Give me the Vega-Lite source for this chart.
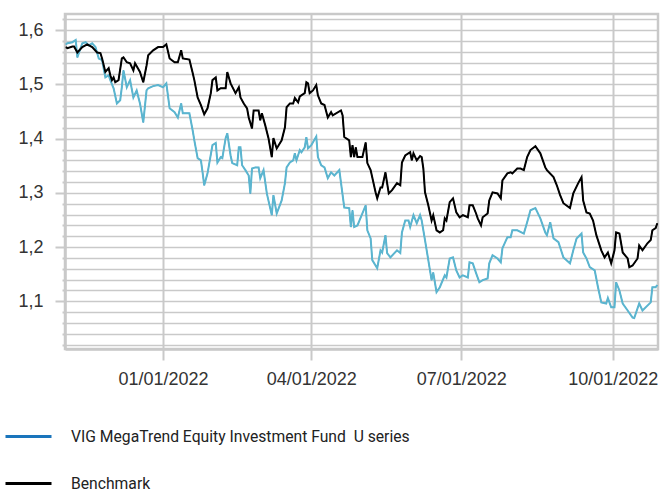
{
  "$schema": "https://vega.github.io/schema/vega-lite/v6.json",
  "width": 593,
  "height": 335,
  "autosize": {"type": "none"},
  "padding": {"left": 65, "top": 14, "right": 6, "bottom": 140},
  "background": "white",
  "config": {
    "font": "Liberation Sans",
    "view": {"stroke": "#c9c9c9", "strokeWidth": 2.5}
  },
  "data": {"values": [
{"date":"2021-11-03","series":"Fund","value":1.574},{"date":"2021-11-04","series":"Fund","value":1.576},{"date":"2021-11-07","series":"Fund","value":1.578},{"date":"2021-11-09","series":"Fund","value":1.582},{"date":"2021-11-10","series":"Fund","value":1.550},{"date":"2021-11-13","series":"Fund","value":1.576},{"date":"2021-11-15","series":"Fund","value":1.578},{"date":"2021-11-17","series":"Fund","value":1.572},{"date":"2021-11-19","series":"Fund","value":1.576},{"date":"2021-11-21","series":"Fund","value":1.569},{"date":"2021-11-23","series":"Fund","value":1.548},{"date":"2021-11-25","series":"Fund","value":1.545},{"date":"2021-11-27","series":"Fund","value":1.513},{"date":"2021-11-29","series":"Fund","value":1.517},{"date":"2021-11-30","series":"Fund","value":1.508},{"date":"2021-12-02","series":"Fund","value":1.493},{"date":"2021-12-04","series":"Fund","value":1.465},{"date":"2021-12-06","series":"Fund","value":1.471},{"date":"2021-12-07","series":"Fund","value":1.495},{"date":"2021-12-08","series":"Fund","value":1.526},{"date":"2021-12-10","series":"Fund","value":1.495},{"date":"2021-12-12","series":"Fund","value":1.508},{"date":"2021-12-14","series":"Fund","value":1.476},{"date":"2021-12-16","series":"Fund","value":1.489},{"date":"2021-12-18","series":"Fund","value":1.465},{"date":"2021-12-20","series":"Fund","value":1.430},{"date":"2021-12-22","series":"Fund","value":1.489},{"date":"2021-12-23","series":"Fund","value":1.493},{"date":"2021-12-26","series":"Fund","value":1.497},{"date":"2021-12-29","series":"Fund","value":1.499},{"date":"2022-01-01","series":"Fund","value":1.495},{"date":"2022-01-03","series":"Fund","value":1.502},{"date":"2022-01-05","series":"Fund","value":1.456},{"date":"2022-01-08","series":"Fund","value":1.449},{"date":"2022-01-10","series":"Fund","value":1.439},{"date":"2022-01-12","series":"Fund","value":1.465},{"date":"2022-01-13","series":"Fund","value":1.447},{"date":"2022-01-17","series":"Fund","value":1.447},{"date":"2022-01-19","series":"Fund","value":1.415},{"date":"2022-01-20","series":"Fund","value":1.397},{"date":"2022-01-22","series":"Fund","value":1.364},{"date":"2022-01-24","series":"Fund","value":1.360},{"date":"2022-01-25","series":"Fund","value":1.338},{"date":"2022-01-26","series":"Fund","value":1.314},{"date":"2022-01-28","series":"Fund","value":1.336},{"date":"2022-01-31","series":"Fund","value":1.388},{"date":"2022-02-02","series":"Fund","value":1.392},{"date":"2022-02-03","series":"Fund","value":1.356},{"date":"2022-02-05","series":"Fund","value":1.366},{"date":"2022-02-06","series":"Fund","value":1.364},{"date":"2022-02-08","series":"Fund","value":1.401},{"date":"2022-02-09","series":"Fund","value":1.410},{"date":"2022-02-11","series":"Fund","value":1.369},{"date":"2022-02-12","series":"Fund","value":1.355},{"date":"2022-02-15","series":"Fund","value":1.351},{"date":"2022-02-16","series":"Fund","value":1.384},{"date":"2022-02-17","series":"Fund","value":1.384},{"date":"2022-02-18","series":"Fund","value":1.351},{"date":"2022-02-20","series":"Fund","value":1.342},{"date":"2022-02-22","series":"Fund","value":1.332},{"date":"2022-02-23","series":"Fund","value":1.299},{"date":"2022-02-24","series":"Fund","value":1.345},{"date":"2022-02-26","series":"Fund","value":1.347},{"date":"2022-02-28","series":"Fund","value":1.347},{"date":"2022-03-01","series":"Fund","value":1.327},{"date":"2022-03-03","series":"Fund","value":1.342},{"date":"2022-03-05","series":"Fund","value":1.299},{"date":"2022-03-08","series":"Fund","value":1.259},{"date":"2022-03-09","series":"Fund","value":1.296},{"date":"2022-03-11","series":"Fund","value":1.262},{"date":"2022-03-14","series":"Fund","value":1.286},{"date":"2022-03-16","series":"Fund","value":1.318},{"date":"2022-03-17","series":"Fund","value":1.347},{"date":"2022-03-19","series":"Fund","value":1.356},{"date":"2022-03-21","series":"Fund","value":1.360},{"date":"2022-03-22","series":"Fund","value":1.373},{"date":"2022-03-23","series":"Fund","value":1.360},{"date":"2022-03-25","series":"Fund","value":1.379},{"date":"2022-03-26","series":"Fund","value":1.375},{"date":"2022-03-28","series":"Fund","value":1.384},{"date":"2022-03-29","series":"Fund","value":1.403},{"date":"2022-03-30","series":"Fund","value":1.382},{"date":"2022-04-01","series":"Fund","value":1.388},{"date":"2022-04-04","series":"Fund","value":1.404},{"date":"2022-04-05","series":"Fund","value":1.366},{"date":"2022-04-07","series":"Fund","value":1.351},{"date":"2022-04-09","series":"Fund","value":1.347},{"date":"2022-04-11","series":"Fund","value":1.327},{"date":"2022-04-13","series":"Fund","value":1.338},{"date":"2022-04-15","series":"Fund","value":1.332},{"date":"2022-04-18","series":"Fund","value":1.342},{"date":"2022-04-21","series":"Fund","value":1.273},{"date":"2022-04-24","series":"Fund","value":1.272},{"date":"2022-04-25","series":"Fund","value":1.237},{"date":"2022-04-26","series":"Fund","value":1.268},{"date":"2022-04-27","series":"Fund","value":1.237},{"date":"2022-04-29","series":"Fund","value":1.240},{"date":"2022-05-02","series":"Fund","value":1.262},{"date":"2022-05-04","series":"Fund","value":1.277},{"date":"2022-05-05","series":"Fund","value":1.231},{"date":"2022-05-07","series":"Fund","value":1.216},{"date":"2022-05-08","series":"Fund","value":1.176},{"date":"2022-05-11","series":"Fund","value":1.161},{"date":"2022-05-13","series":"Fund","value":1.194},{"date":"2022-05-14","series":"Fund","value":1.190},{"date":"2022-05-16","series":"Fund","value":1.222},{"date":"2022-05-17","series":"Fund","value":1.189},{"date":"2022-05-19","series":"Fund","value":1.181},{"date":"2022-05-23","series":"Fund","value":1.194},{"date":"2022-05-25","series":"Fund","value":1.189},{"date":"2022-05-26","series":"Fund","value":1.227},{"date":"2022-05-28","series":"Fund","value":1.249},{"date":"2022-05-30","series":"Fund","value":1.249},{"date":"2022-05-31","series":"Fund","value":1.237},{"date":"2022-06-02","series":"Fund","value":1.259},{"date":"2022-06-04","series":"Fund","value":1.244},{"date":"2022-06-06","series":"Fund","value":1.259},{"date":"2022-06-07","series":"Fund","value":1.249},{"date":"2022-06-09","series":"Fund","value":1.213},{"date":"2022-06-11","series":"Fund","value":1.176},{"date":"2022-06-13","series":"Fund","value":1.139},{"date":"2022-06-14","series":"Fund","value":1.153},{"date":"2022-06-16","series":"Fund","value":1.117},{"date":"2022-06-18","series":"Fund","value":1.126},{"date":"2022-06-21","series":"Fund","value":1.148},{"date":"2022-06-22","series":"Fund","value":1.144},{"date":"2022-06-24","series":"Fund","value":1.179},{"date":"2022-06-26","series":"Fund","value":1.181},{"date":"2022-06-28","series":"Fund","value":1.157},{"date":"2022-06-30","series":"Fund","value":1.144},{"date":"2022-07-02","series":"Fund","value":1.148},{"date":"2022-07-05","series":"Fund","value":1.144},{"date":"2022-07-06","series":"Fund","value":1.172},{"date":"2022-07-08","series":"Fund","value":1.170},{"date":"2022-07-10","series":"Fund","value":1.152},{"date":"2022-07-12","series":"Fund","value":1.135},{"date":"2022-07-14","series":"Fund","value":1.139},{"date":"2022-07-17","series":"Fund","value":1.142},{"date":"2022-07-18","series":"Fund","value":1.170},{"date":"2022-07-20","series":"Fund","value":1.185},{"date":"2022-07-23","series":"Fund","value":1.179},{"date":"2022-07-25","series":"Fund","value":1.172},{"date":"2022-07-26","series":"Fund","value":1.198},{"date":"2022-07-29","series":"Fund","value":1.218},{"date":"2022-07-31","series":"Fund","value":1.218},{"date":"2022-08-01","series":"Fund","value":1.231},{"date":"2022-08-04","series":"Fund","value":1.231},{"date":"2022-08-08","series":"Fund","value":1.225},{"date":"2022-08-10","series":"Fund","value":1.246},{"date":"2022-08-12","series":"Fund","value":1.268},{"date":"2022-08-15","series":"Fund","value":1.272},{"date":"2022-08-18","series":"Fund","value":1.253},{"date":"2022-08-21","series":"Fund","value":1.227},{"date":"2022-08-22","series":"Fund","value":1.222},{"date":"2022-08-24","series":"Fund","value":1.246},{"date":"2022-08-26","series":"Fund","value":1.216},{"date":"2022-08-29","series":"Fund","value":1.209},{"date":"2022-09-01","series":"Fund","value":1.181},{"date":"2022-09-05","series":"Fund","value":1.170},{"date":"2022-09-07","series":"Fund","value":1.194},{"date":"2022-09-09","series":"Fund","value":1.216},{"date":"2022-09-12","series":"Fund","value":1.225},{"date":"2022-09-13","series":"Fund","value":1.190},{"date":"2022-09-15","series":"Fund","value":1.179},{"date":"2022-09-17","series":"Fund","value":1.163},{"date":"2022-09-20","series":"Fund","value":1.157},{"date":"2022-09-22","series":"Fund","value":1.126},{"date":"2022-09-24","series":"Fund","value":1.098},{"date":"2022-09-27","series":"Fund","value":1.096},{"date":"2022-09-28","series":"Fund","value":1.106},{"date":"2022-09-30","series":"Fund","value":1.089},{"date":"2022-10-02","series":"Fund","value":1.089},{"date":"2022-10-03","series":"Fund","value":1.135},{"date":"2022-10-05","series":"Fund","value":1.120},{"date":"2022-10-07","series":"Fund","value":1.096},{"date":"2022-10-10","series":"Fund","value":1.083},{"date":"2022-10-13","series":"Fund","value":1.070},{"date":"2022-10-14","series":"Fund","value":1.069},{"date":"2022-10-17","series":"Fund","value":1.096},{"date":"2022-10-19","series":"Fund","value":1.083},{"date":"2022-10-24","series":"Fund","value":1.098},{"date":"2022-10-25","series":"Fund","value":1.126},{"date":"2022-10-27","series":"Fund","value":1.126},{"date":"2022-10-28","series":"Fund","value":1.130},
{"date":"2021-11-03","series":"Benchmark","value":1.569},{"date":"2021-11-04","series":"Benchmark","value":1.567},{"date":"2021-11-07","series":"Benchmark","value":1.570},{"date":"2021-11-08","series":"Benchmark","value":1.570},{"date":"2021-11-10","series":"Benchmark","value":1.559},{"date":"2021-11-13","series":"Benchmark","value":1.569},{"date":"2021-11-16","series":"Benchmark","value":1.574},{"date":"2021-11-19","series":"Benchmark","value":1.569},{"date":"2021-11-22","series":"Benchmark","value":1.559},{"date":"2021-11-24","series":"Benchmark","value":1.558},{"date":"2021-11-25","series":"Benchmark","value":1.548},{"date":"2021-11-27","series":"Benchmark","value":1.523},{"date":"2021-11-29","series":"Benchmark","value":1.530},{"date":"2021-11-30","series":"Benchmark","value":1.517},{"date":"2021-12-01","series":"Benchmark","value":1.508},{"date":"2021-12-02","series":"Benchmark","value":1.513},{"date":"2021-12-03","series":"Benchmark","value":1.504},{"date":"2021-12-05","series":"Benchmark","value":1.508},{"date":"2021-12-07","series":"Benchmark","value":1.548},{"date":"2021-12-08","series":"Benchmark","value":1.550},{"date":"2021-12-10","series":"Benchmark","value":1.541},{"date":"2021-12-12","series":"Benchmark","value":1.539},{"date":"2021-12-14","series":"Benchmark","value":1.526},{"date":"2021-12-15","series":"Benchmark","value":1.539},{"date":"2021-12-18","series":"Benchmark","value":1.523},{"date":"2021-12-20","series":"Benchmark","value":1.504},{"date":"2021-12-22","series":"Benchmark","value":1.535},{"date":"2021-12-23","series":"Benchmark","value":1.554},{"date":"2021-12-26","series":"Benchmark","value":1.563},{"date":"2021-12-29","series":"Benchmark","value":1.569},{"date":"2022-01-01","series":"Benchmark","value":1.569},{"date":"2022-01-03","series":"Benchmark","value":1.574},{"date":"2022-01-05","series":"Benchmark","value":1.548},{"date":"2022-01-08","series":"Benchmark","value":1.541},{"date":"2022-01-10","series":"Benchmark","value":1.541},{"date":"2022-01-12","series":"Benchmark","value":1.563},{"date":"2022-01-13","series":"Benchmark","value":1.548},{"date":"2022-01-17","series":"Benchmark","value":1.546},{"date":"2022-01-19","series":"Benchmark","value":1.521},{"date":"2022-01-20","series":"Benchmark","value":1.508},{"date":"2022-01-22","series":"Benchmark","value":1.476},{"date":"2022-01-24","series":"Benchmark","value":1.462},{"date":"2022-01-26","series":"Benchmark","value":1.445},{"date":"2022-01-28","series":"Benchmark","value":1.456},{"date":"2022-01-30","series":"Benchmark","value":1.484},{"date":"2022-01-31","series":"Benchmark","value":1.508},{"date":"2022-02-02","series":"Benchmark","value":1.513},{"date":"2022-02-03","series":"Benchmark","value":1.489},{"date":"2022-02-05","series":"Benchmark","value":1.493},{"date":"2022-02-08","series":"Benchmark","value":1.493},{"date":"2022-02-09","series":"Benchmark","value":1.523},{"date":"2022-02-11","series":"Benchmark","value":1.502},{"date":"2022-02-14","series":"Benchmark","value":1.484},{"date":"2022-02-16","series":"Benchmark","value":1.495},{"date":"2022-02-17","series":"Benchmark","value":1.476},{"date":"2022-02-19","series":"Benchmark","value":1.465},{"date":"2022-02-21","series":"Benchmark","value":1.456},{"date":"2022-02-22","series":"Benchmark","value":1.439},{"date":"2022-02-24","series":"Benchmark","value":1.419},{"date":"2022-02-25","series":"Benchmark","value":1.452},{"date":"2022-02-28","series":"Benchmark","value":1.452},{"date":"2022-03-01","series":"Benchmark","value":1.434},{"date":"2022-03-02","series":"Benchmark","value":1.447},{"date":"2022-03-04","series":"Benchmark","value":1.425},{"date":"2022-03-06","series":"Benchmark","value":1.401},{"date":"2022-03-08","series":"Benchmark","value":1.366},{"date":"2022-03-09","series":"Benchmark","value":1.401},{"date":"2022-03-11","series":"Benchmark","value":1.382},{"date":"2022-03-14","series":"Benchmark","value":1.397},{"date":"2022-03-16","series":"Benchmark","value":1.421},{"date":"2022-03-17","series":"Benchmark","value":1.458},{"date":"2022-03-19","series":"Benchmark","value":1.465},{"date":"2022-03-21","series":"Benchmark","value":1.465},{"date":"2022-03-22","series":"Benchmark","value":1.475},{"date":"2022-03-24","series":"Benchmark","value":1.467},{"date":"2022-03-25","series":"Benchmark","value":1.478},{"date":"2022-03-28","series":"Benchmark","value":1.484},{"date":"2022-03-29","series":"Benchmark","value":1.504},{"date":"2022-03-30","series":"Benchmark","value":1.502},{"date":"2022-03-31","series":"Benchmark","value":1.484},{"date":"2022-04-02","series":"Benchmark","value":1.489},{"date":"2022-04-04","series":"Benchmark","value":1.499},{"date":"2022-04-05","series":"Benchmark","value":1.480},{"date":"2022-04-07","series":"Benchmark","value":1.465},{"date":"2022-04-09","series":"Benchmark","value":1.462},{"date":"2022-04-11","series":"Benchmark","value":1.439},{"date":"2022-04-13","series":"Benchmark","value":1.449},{"date":"2022-04-14","series":"Benchmark","value":1.443},{"date":"2022-04-19","series":"Benchmark","value":1.452},{"date":"2022-04-20","series":"Benchmark","value":1.443},{"date":"2022-04-21","series":"Benchmark","value":1.403},{"date":"2022-04-24","series":"Benchmark","value":1.397},{"date":"2022-04-25","series":"Benchmark","value":1.366},{"date":"2022-04-26","series":"Benchmark","value":1.388},{"date":"2022-04-27","series":"Benchmark","value":1.366},{"date":"2022-04-28","series":"Benchmark","value":1.384},{"date":"2022-04-29","series":"Benchmark","value":1.366},{"date":"2022-05-02","series":"Benchmark","value":1.366},{"date":"2022-05-04","series":"Benchmark","value":1.393},{"date":"2022-05-05","series":"Benchmark","value":1.355},{"date":"2022-05-07","series":"Benchmark","value":1.342},{"date":"2022-05-10","series":"Benchmark","value":1.301},{"date":"2022-05-11","series":"Benchmark","value":1.290},{"date":"2022-05-13","series":"Benchmark","value":1.310},{"date":"2022-05-14","series":"Benchmark","value":1.310},{"date":"2022-05-16","series":"Benchmark","value":1.338},{"date":"2022-05-17","series":"Benchmark","value":1.318},{"date":"2022-05-18","series":"Benchmark","value":1.299},{"date":"2022-05-20","series":"Benchmark","value":1.305},{"date":"2022-05-23","series":"Benchmark","value":1.318},{"date":"2022-05-25","series":"Benchmark","value":1.314},{"date":"2022-05-26","series":"Benchmark","value":1.356},{"date":"2022-05-28","series":"Benchmark","value":1.369},{"date":"2022-05-31","series":"Benchmark","value":1.375},{"date":"2022-06-01","series":"Benchmark","value":1.360},{"date":"2022-06-02","series":"Benchmark","value":1.373},{"date":"2022-06-04","series":"Benchmark","value":1.360},{"date":"2022-06-06","series":"Benchmark","value":1.368},{"date":"2022-06-07","series":"Benchmark","value":1.366},{"date":"2022-06-08","series":"Benchmark","value":1.345},{"date":"2022-06-09","series":"Benchmark","value":1.301},{"date":"2022-06-11","series":"Benchmark","value":1.277},{"date":"2022-06-13","series":"Benchmark","value":1.249},{"date":"2022-06-14","series":"Benchmark","value":1.259},{"date":"2022-06-16","series":"Benchmark","value":1.231},{"date":"2022-06-18","series":"Benchmark","value":1.227},{"date":"2022-06-20","series":"Benchmark","value":1.231},{"date":"2022-06-21","series":"Benchmark","value":1.253},{"date":"2022-06-22","series":"Benchmark","value":1.249},{"date":"2022-06-24","series":"Benchmark","value":1.283},{"date":"2022-06-26","series":"Benchmark","value":1.290},{"date":"2022-06-28","series":"Benchmark","value":1.264},{"date":"2022-06-30","series":"Benchmark","value":1.255},{"date":"2022-07-02","series":"Benchmark","value":1.259},{"date":"2022-07-05","series":"Benchmark","value":1.255},{"date":"2022-07-06","series":"Benchmark","value":1.277},{"date":"2022-07-08","series":"Benchmark","value":1.277},{"date":"2022-07-10","series":"Benchmark","value":1.262},{"date":"2022-07-11","series":"Benchmark","value":1.253},{"date":"2022-07-13","series":"Benchmark","value":1.240},{"date":"2022-07-14","series":"Benchmark","value":1.255},{"date":"2022-07-17","series":"Benchmark","value":1.262},{"date":"2022-07-18","series":"Benchmark","value":1.286},{"date":"2022-07-20","series":"Benchmark","value":1.301},{"date":"2022-07-23","series":"Benchmark","value":1.299},{"date":"2022-07-25","series":"Benchmark","value":1.290},{"date":"2022-07-26","series":"Benchmark","value":1.323},{"date":"2022-07-29","series":"Benchmark","value":1.336},{"date":"2022-07-31","series":"Benchmark","value":1.338},{"date":"2022-08-01","series":"Benchmark","value":1.336},{"date":"2022-08-04","series":"Benchmark","value":1.345},{"date":"2022-08-06","series":"Benchmark","value":1.345},{"date":"2022-08-08","series":"Benchmark","value":1.342},{"date":"2022-08-10","series":"Benchmark","value":1.366},{"date":"2022-08-12","series":"Benchmark","value":1.379},{"date":"2022-08-15","series":"Benchmark","value":1.386},{"date":"2022-08-18","series":"Benchmark","value":1.373},{"date":"2022-08-21","series":"Benchmark","value":1.347},{"date":"2022-08-22","series":"Benchmark","value":1.342},{"date":"2022-08-26","series":"Benchmark","value":1.329},{"date":"2022-08-28","series":"Benchmark","value":1.314},{"date":"2022-08-30","series":"Benchmark","value":1.296},{"date":"2022-09-01","series":"Benchmark","value":1.281},{"date":"2022-09-05","series":"Benchmark","value":1.272},{"date":"2022-09-07","series":"Benchmark","value":1.299},{"date":"2022-09-10","series":"Benchmark","value":1.318},{"date":"2022-09-12","series":"Benchmark","value":1.329},{"date":"2022-09-13","series":"Benchmark","value":1.286},{"date":"2022-09-15","series":"Benchmark","value":1.264},{"date":"2022-09-17","series":"Benchmark","value":1.262},{"date":"2022-09-19","series":"Benchmark","value":1.249},{"date":"2022-09-21","series":"Benchmark","value":1.222},{"date":"2022-09-24","series":"Benchmark","value":1.194},{"date":"2022-09-26","series":"Benchmark","value":1.181},{"date":"2022-09-28","series":"Benchmark","value":1.190},{"date":"2022-09-30","series":"Benchmark","value":1.170},{"date":"2022-10-02","series":"Benchmark","value":1.194},{"date":"2022-10-03","series":"Benchmark","value":1.227},{"date":"2022-10-05","series":"Benchmark","value":1.225},{"date":"2022-10-07","series":"Benchmark","value":1.190},{"date":"2022-10-10","series":"Benchmark","value":1.179},{"date":"2022-10-11","series":"Benchmark","value":1.163},{"date":"2022-10-13","series":"Benchmark","value":1.166},{"date":"2022-10-16","series":"Benchmark","value":1.179},{"date":"2022-10-17","series":"Benchmark","value":1.203},{"date":"2022-10-19","series":"Benchmark","value":1.194},{"date":"2022-10-22","series":"Benchmark","value":1.207},{"date":"2022-10-24","series":"Benchmark","value":1.213},{"date":"2022-10-25","series":"Benchmark","value":1.231},{"date":"2022-10-27","series":"Benchmark","value":1.235},{"date":"2022-10-28","series":"Benchmark","value":1.244}
  ]},
  "encoding": {
    "x": {
      "field": "date", "type": "temporal",
      "scale": {"type": "utc", "domain": [{"year": 2021, "month": 11, "date": 2, "hours": 12, "utc": true}, {"year": 2022, "month": 10, "date": 28, "hours": 10, "utc": true}]},
      "axis": {
        "title": null,
        "values": [{"year": 2022, "month": 1, "date": 1, "utc": true}, {"year": 2022, "month": 4, "date": 1, "utc": true}, {"year": 2022, "month": 7, "date": 1, "utc": true}, {"year": 2022, "month": 10, "date": 1, "utc": true}],
        "format": "%m/%d/%Y",
        "grid": true, "gridColor": "#c9c9c9", "gridWidth": 2,
        "domain": true, "domainColor": "#c9c9c9", "domainWidth": 2.5,
        "ticks": true, "tickColor": "#c9c9c9", "tickWidth": 2, "tickSize": 11,
        "labelFontSize": 18, "labelColor": "#333333", "labelPadding": 10, "labelFlush": false
      }
    },
    "y": {
      "field": "value", "type": "quantitative",
      "scale": {"domain": [1.012, 1.63], "nice": false, "zero": false},
      "axis": {
        "title": null,
        "values": [1.02, 1.04, 1.06, 1.08, 1.1, 1.12, 1.14, 1.16, 1.18, 1.2, 1.22, 1.24, 1.26, 1.28, 1.3, 1.32, 1.34, 1.36, 1.38, 1.4, 1.42, 1.44, 1.46, 1.48, 1.5, 1.52, 1.54, 1.56, 1.58, 1.6, 1.62],
        "labelExpr": "abs(datum.value*10 - round(datum.value*10)) < 0.001 ? replace(format(datum.value, '.1f'), '.', ',') : ''",
        "grid": true, "gridColor": "#c9c9c9", "gridWidth": 1.6,
        "domain": true, "domainColor": "#c9c9c9", "domainWidth": 2.5,
        "ticks": true, "tickColor": "#c9c9c9", "tickWidth": 2,
        "tickSize": {"condition": {"test": "abs(datum.value*10 - round(datum.value*10)) < 0.001", "value": 10}, "value": 3},
        "labelFontSize": 18, "labelColor": "#333333", "labelPadding": 12, "labelOverlap": false
      }
    }
  },
  "layer": [
    {
      "mark": {"type": "line", "strokeWidth": 1, "clip": true},
      "encoding": {
        "stroke": {
          "field": "series", "type": "nominal",
          "scale": {"domain": ["Fund", "Benchmark"], "range": ["#1a75bc", "#000000"]},
          "legend": {
            "title": null, "orient": "none", "direction": "vertical",
            "legendX": -61, "legendY": 398,
            "symbolType": "stroke", "symbolSize": 2116, "symbolStrokeWidth": 3,
            "labelFontSize": 15.7, "labelColor": "#222222", "labelFont": "Roboto",
            "labelOffset": 18, "rowPadding": 14, "labelLimit": 600,
            "labelExpr": "datum.value === 'Fund' ? 'VIG MegaTrend Equity Investment Fund\u00a0 U series' : 'Benchmark'"
          }
        }
      }
    },
    {
      "mark": {"type": "line", "strokeWidth": 2, "clip": true},
      "encoding": {
        "color": {
          "field": "series", "type": "nominal",
          "scale": {"domain": ["Fund", "Benchmark"], "range": ["#5bb5cf", "#000000"]},
          "legend": null
        }
      }
    }
  ]
}
